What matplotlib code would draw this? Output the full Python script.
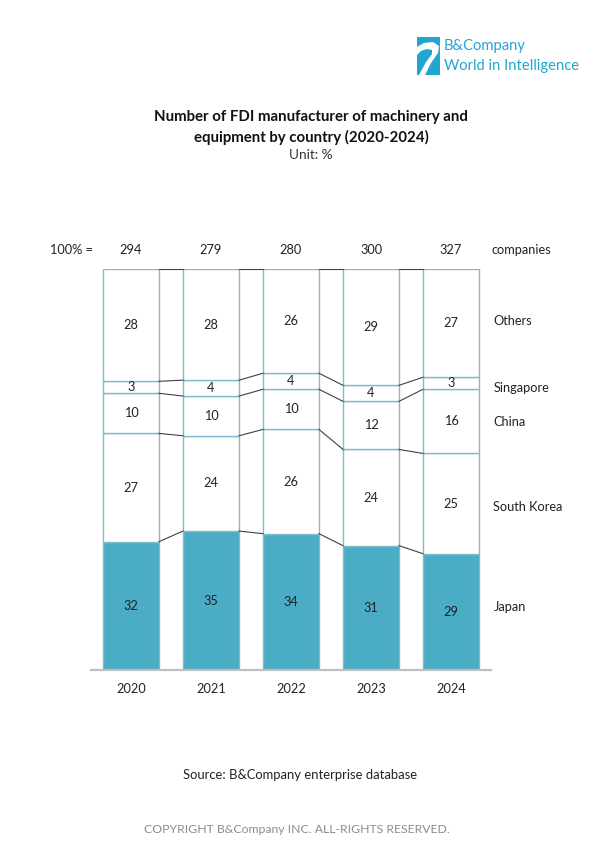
import matplotlib
matplotlib.use("Agg")
import matplotlib.pyplot as plt
import numpy as np
from matplotlib.patches import Rectangle, Polygon

plt.rcParams['font.family'] = ['Lato', 'DejaVu Sans']

# ---------------- data ----------------
years = ["2020", "2021", "2022", "2023", "2024"]
totals = [294, 279, 280, 300, 327]
countries = ["Japan", "South Korea", "China", "Singapore", "Others"]
japan = [32, 35, 34, 31, 29]
south_korea = [27, 24, 26, 24, 25]
china = [10, 10, 10, 12, 16]
singapore = [3, 4, 4, 4, 3]
others = [28, 28, 26, 29, 27]

series = [japan, south_korea, china, singapore, others]

# ---------------- style ----------------
W, H, DPI = 594, 847, 100
fig = plt.figure(figsize=(W / DPI, H / DPI), dpi=DPI)
fig.patch.set_facecolor("white")

ax_left, ax_right = 91, 491
ax_top, ax_bottom = 269, 670
ax = fig.add_axes([ax_left / W, 1 - ax_bottom / H, (ax_right - ax_left) / W, (ax_bottom - ax_top) / H])
ax.set_xlim(-0.5, 4.5)
ax.set_ylim(0, 100)
ax.axis("off")

text_col = "#222222"
japan_col = "#4BACC6"
edge_col = "#7dbccf"
conn_col = "#404040"
bw = 0.7
fs = 9.2

x = np.arange(len(years))
vals = np.array(series, dtype=float)
norm = vals / vals.sum(axis=0) * 100
bottoms = np.vstack([np.zeros(len(years)), np.cumsum(norm, axis=0)[:-1]])
tops = np.cumsum(norm, axis=0)

for k, name in enumerate(countries):
    face = japan_col if k == 0 else "white"
    ax.bar(x, norm[k], bw, bottom=bottoms[k], color=face, edgecolor=edge_col, linewidth=1.0, zorder=2)
    for i in range(len(years)):
        ax.text(x[i], bottoms[k][i] + norm[k][i] / 2, str(series[k][i]), ha="center", va="center",
                fontsize=fs, color=text_col, zorder=4)

# connector lines between bars
for k in range(len(countries)):
    for i in range(len(years) - 1):
        ax.plot([x[i] + bw / 2, x[i + 1] - bw / 2], [tops[k][i], tops[k][i + 1]],
                color=conn_col, lw=0.8, zorder=3)

# baseline
ax.plot([-0.5, 4.5], [0, 0], color="#bfbfbf", lw=1.6, zorder=5, clip_on=False)

# totals row
ax.text(-1.01, 104.7, "100% =", ha="left", va="center", fontsize=fs, color=text_col, clip_on=False)
for i in range(len(years)):
    ax.text(x[i], 104.7, str(totals[i]), ha="center", va="center", fontsize=fs, color=text_col, clip_on=False)
    ax.text(x[i], -4.7, years[i], ha="center", va="center", fontsize=fs, color=text_col, clip_on=False)
ax.text(4.5, 104.7, "companies", ha="left", va="center", fontsize=fs, color=text_col, clip_on=False)

# right-hand country labels
label_y = [15.7, 40.6, 61.8, 70.3, 87.0]
for name, yy in zip(countries, label_y):
    ax.text(4.53, yy, name, ha="left", va="center", fontsize=fs, color=text_col, clip_on=False)

# titles
fig.text(311 / W, 1 - 117 / H, "Number of FDI manufacturer of machinery and", ha="center", va="center",
         fontsize=10.8, fontweight="bold", color="#111111")
fig.text(311 / W, 1 - 137 / H, "equipment by country (2020-2024)", ha="center", va="center",
         fontsize=10.8, fontweight="bold", color="#111111")
fig.text(311 / W, 1 - 155 / H, "Unit: %", ha="center", va="center", fontsize=9.8, color="#333333")

fig.text(300 / W, 1 - 775 / H, "Source: B&Company enterprise database", ha="center", va="center",
         fontsize=9.4, color=text_col)
fig.text(297 / W, 1 - 829 / H, "COPYRIGHT B&Company INC. ALL-RIGHTS RESERVED.", ha="center", va="center",
         fontsize=8.8, color="#8c8c8c")

# logo
logo_col = "#21a6d2"
lax = fig.add_axes([0, 0, 1, 1], zorder=10)
lax.set_xlim(0, W)
lax.set_ylim(H, 0)
lax.axis("off")
lax.add_patch(Rectangle((417, 37), 23, 38, facecolor=logo_col, edgecolor="none"))
verts = [(417, 47), (424, 43), (433, 42), (439, 46), (438, 53), (431, 63), (425, 75), (419, 75),
         (426, 62), (432, 54), (432, 50), (427, 49), (421, 51), (417, 55)]
lax.add_patch(Polygon(verts, closed=True, facecolor="white", edgecolor="none"))
lax.text(444, 46, "B&Company", ha="left", va="center", fontsize=10.6, color=logo_col)
lax.text(444, 66, "World in Intelligence", ha="left", va="center", fontsize=10.6, color=logo_col)

fig.savefig("out.png", dpi=DPI, facecolor="white")
